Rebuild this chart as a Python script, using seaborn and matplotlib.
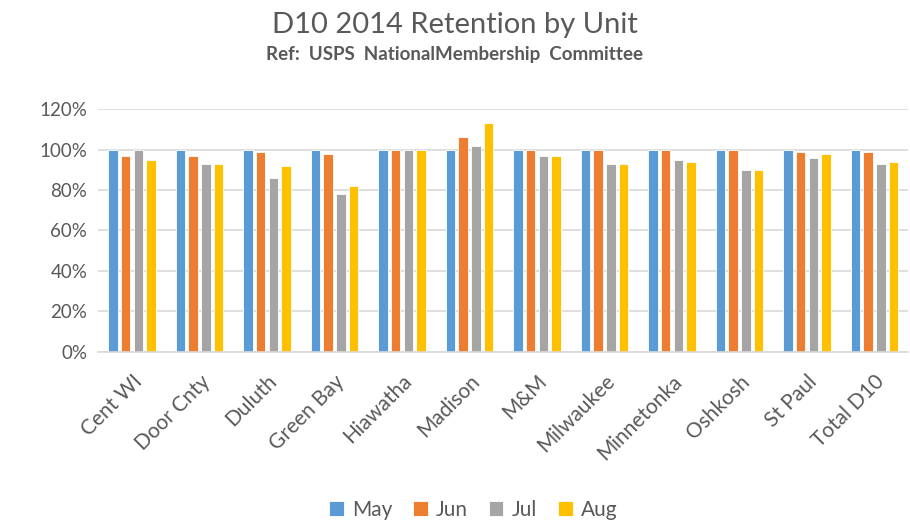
import pandas as pd
import matplotlib
matplotlib.use("Agg")
import matplotlib.pyplot as plt
import seaborn as sns
from matplotlib.ticker import PercentFormatter

units = ['Cent WI', 'Door Cnty', 'Duluth', 'Green Bay', 'Hiawatha', 'Madison',
         'M&M', 'Milwaukee', 'Minnetonka', 'Oshkosh', 'St Paul', 'Total D10']
months = ['May', 'Jun', 'Jul', 'Aug']
may = [100, 100, 100, 100, 100, 100, 100, 100, 100, 100, 100, 100]
jun = [97, 97, 99, 98, 100, 106, 100, 100, 100, 100, 99, 99]
jul = [100, 93, 86, 78, 100, 102, 97, 93, 95, 90, 96, 93]
aug = [95, 93, 92, 82, 100, 113, 97, 93, 94, 90, 98, 94]
colors = ['#5B9BD5', '#ED7D31', '#A5A5A5', '#FFC000']

df = pd.DataFrame({'Unit': units * 4,
                   'Month': [m for m in months for _ in units],
                   'Retention': may + jun + jul + aug})

sns.set_theme(style="white")
plt.rcParams['font.family'] = ['Lato', 'DejaVu Sans']
text_color = '#595959'

fig = plt.figure(figsize=(9.1, 5.22), dpi=100)
ax = fig.add_axes([0.108, 0.326, 0.89, 0.465])

sns.barplot(data=df, x='Unit', y='Retention', hue='Month', palette=colors,
            width=0.75, gap=0.25, edgecolor='white', linewidth=0.6,
            saturation=1, ax=ax)

ax.set_ylim(0, 120)
ax.set_yticks(range(0, 121, 20))
ax.yaxis.set_major_formatter(PercentFormatter(decimals=0))
ax.set_xlim(-0.5, len(units) - 0.5)
ax.grid(axis='y', color='#D9D9D9', linewidth=1.2)
ax.set_axisbelow(True)
for s in ['top', 'right', 'left']:
    ax.spines[s].set_visible(False)
ax.spines['bottom'].set_color('#D9D9D9')
ax.spines['bottom'].set_linewidth(1.2)
ax.set_xlabel('')
ax.set_ylabel('')
ax.tick_params(axis='y', length=0, labelsize=13.5, colors=text_color, pad=8)
ax.tick_params(axis='x', length=0, labelsize=15, colors=text_color, pad=14)
plt.setp(ax.get_xticklabels(), rotation=45, ha='right', rotation_mode='anchor')

fig.text(0.5, 0.953, 'D10 2014 Retention by Unit', ha='center', va='center',
         fontsize=21, color=text_color)
fig.text(0.5, 0.896, 'Ref:  USPS  NationalMembership  Committee', ha='center',
         va='center', fontsize=13.5, fontweight='bold', color=text_color)

handles, labels = ax.get_legend_handles_labels()
ax.legend(handles, labels, loc='center', bbox_to_anchor=(0.52, 0.023),
          bbox_transform=fig.transFigure, ncol=4, frameon=False,
          fontsize=15, labelcolor=text_color, handlelength=0.7,
          handleheight=0.7, handletextpad=0.4, columnspacing=1.0)

fig.savefig('out.png', dpi=100)
